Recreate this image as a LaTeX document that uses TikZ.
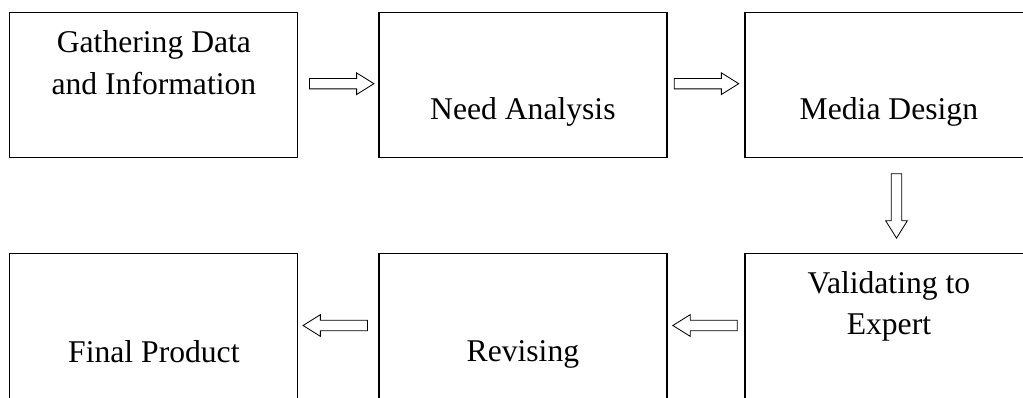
\documentclass[tikz,border=0pt]{standalone}
\usepackage{fontspec}
\setmainfont{Liberation Serif}
\usetikzlibrary{shapes.arrows}
\tikzset{
  stage/.style={draw, line width=0.85pt, minimum width=7.2cm, minimum height=3.62cm,
    inner sep=0pt, anchor=north west},
  stagetext/.style={font=\fontsize{22.5}{29.6}\selectfont, align=center, inner sep=0pt,
    anchor=base},
  flow/.style={draw, line width=0.6pt, single arrow, single arrow head extend=0.14cm,
    single arrow tip angle=64, minimum height=1.61cm,
    inner xsep=0pt, inner ysep=0.12cm, sloped, allow upside down, pos=0, anchor=tail}
}
\begin{document}
\begin{tikzpicture}
	\useasboundingbox (0,0) rectangle (25.575,9.925);
	\clip (0,0) rectangle (25.575,9.925);
        % top row
        \node[stage] (gather) at (0.2325,9.6175) {};
        \node[stage] (need) at (9.4575,9.6175) {};
        \node[stage] (media) at (18.6075,9.6175) {};
        % bottom row
        \node[stage] (final) at (0.2325,3.5925) {};
        \node[stage] (revise) at (9.4575,3.5925) {};
        \node[stage] (valid) at (18.6075,3.5925) {};

        % box texts (base = last line)
        \node[stagetext] (gathertext) at ([yshift=-2.05cm]gather.north) {Gathering Data\\and Information};
        \node[stagetext] (needtext) at ([yshift=-2.69cm]need.north) {Need Analysis};
        \node[stagetext] (mediatext) at ([yshift=-2.69cm]media.north) {Media Design};
        \node[stagetext] (validtext) at ([yshift=-2.04cm]valid.north) {Validating to\\Expert};
        \node[stagetext] (revisetext) at ([yshift=-2.71cm]revise.north) {Revising};
        \node[stagetext] (finaltext) at ([yshift=-2.74cm]final.north) {Final Product};

        % hollow arrows between the stages
        \path ([xshift=0.265cm,yshift=0.04cm]gather.east) -- ([yshift=0.04cm]need.west) node[flow] (gatherneed) {};
        \path ([xshift=0.16cm,yshift=0.04cm]need.east) -- ([yshift=0.04cm]media.west) node[flow] (needmedia) {};
        \path ([xshift=0.19cm,yshift=-0.375cm]media.south) -- ([xshift=0.19cm]valid.north) node[flow] (mediavalid) {};
        \path ([xshift=-0.165cm,yshift=0.02cm]valid.west) -- ([yshift=0.02cm]revise.east) node[flow] (validrevise) {};
        \path ([xshift=-0.26cm,yshift=0.02cm]revise.west) -- ([yshift=0.02cm]final.east) node[flow] (revisefinal) {};
\end{tikzpicture}
\end{document}
